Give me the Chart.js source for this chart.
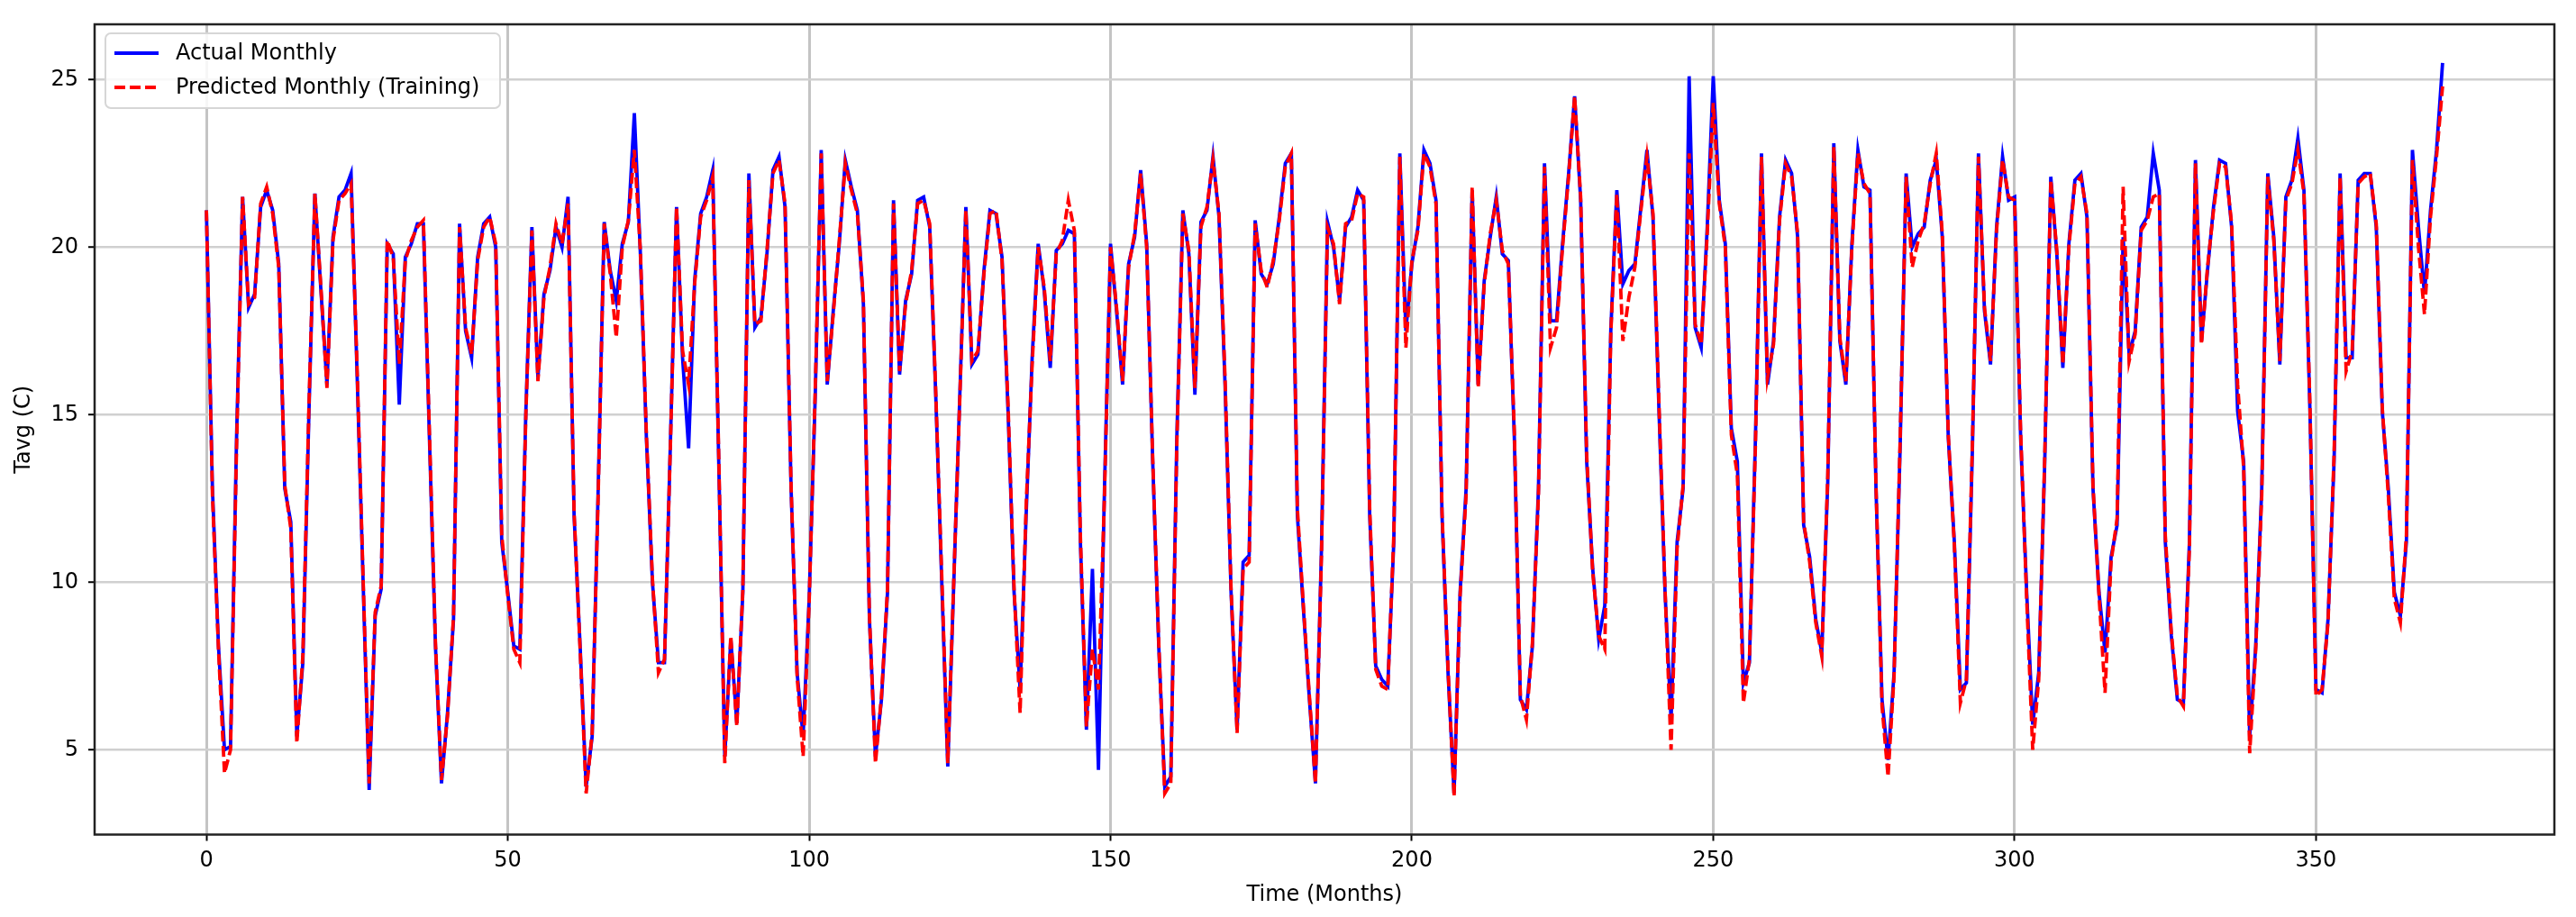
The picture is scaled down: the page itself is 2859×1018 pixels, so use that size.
<!DOCTYPE html>
<html>
<head>
<meta charset="utf-8">
<script src="https://cdn.jsdelivr.net/npm/chart.js@4.4.1/dist/chart.umd.min.js"></script>
<style>
  html, body { margin: 0; padding: 0; background: #fff; }
  #wrap { width: 2859px; height: 1018px; }
</style>
</head>
<body>
<div id="wrap"><canvas id="tavg-chart" width="2859" height="1018"></canvas></div>
<script>
// monthly Tavg (C)
const actualMonthly = [
  21.1, 12.8, 8.1, 5.0, 5.1, 14.3, 21.5, 18.2, 18.6, 21.2,
  21.7, 21.1, 19.5, 12.8, 11.8, 5.4, 7.6, 15.0, 21.6, 18.7,
  15.9, 20.3, 21.5, 21.7, 22.2, 16.2, 10.0, 3.8, 9.0, 9.8,
  20.1, 19.8, 15.3, 19.7, 20.1, 20.7, 20.7, 14.3, 8.1, 4.0,
  6.1, 8.9, 20.7, 17.5, 16.7, 19.7, 20.7, 20.9, 20.0, 11.2,
  9.7, 8.1, 8.0, 15.1, 20.6, 16.1, 18.6, 19.3, 20.6, 20.0,
  21.5, 12.0, 8.1, 3.9, 5.4, 12.8, 20.75, 19.3, 18.4, 20.1,
  20.75, 24.0, 19.8, 14.3, 10.0, 7.6, 7.6, 14.3, 21.2, 16.7,
  14.0, 19.0, 21.0, 21.5, 22.3, 13.6, 4.8, 8.3, 5.8, 9.7,
  22.2, 17.6, 17.9, 19.8, 22.3, 22.7, 21.2, 12.8, 7.3, 5.4,
  9.5, 15.5, 22.9, 15.9, 18.1, 20.1, 22.6, 21.8, 21.1, 18.3,
  8.9, 4.8, 6.5, 9.7, 21.4, 16.2, 18.4, 19.2, 21.4, 21.5,
  20.6, 15.6, 10.0, 4.5, 10.0, 15.6, 21.2, 16.5, 16.8, 19.3,
  21.1, 21.0, 19.7, 15.1, 9.7, 6.8, 12.0, 16.7, 20.1, 18.7,
  16.4, 19.9, 20.1, 20.5, 20.4, 11.2, 5.6, 10.4, 4.4, 12.8,
  20.1, 18.1, 15.9, 19.5, 20.3, 22.3, 20.1, 13.6, 8.1, 3.9,
  4.2, 14.3, 21.1, 19.8, 15.6, 20.75, 21.1, 22.7, 20.9, 15.9,
  9.7, 5.6, 10.6, 10.8, 20.8, 19.2, 18.9, 19.5, 20.9, 22.5,
  22.8, 12.0, 9.2, 6.5, 4.0, 11.0, 20.75, 20.0, 18.4, 20.6,
  20.9, 21.7, 21.4, 12.0, 7.5, 7.1, 6.9, 11.2, 22.8, 17.5,
  19.5, 20.6, 22.9, 22.5, 21.4, 12.0, 7.3, 3.7, 9.7, 12.8,
  21.7, 15.9, 19.0, 20.3, 21.5, 19.8, 19.6, 14.3, 6.5, 6.2,
  8.1, 12.8, 22.5, 17.8, 17.8, 20.1, 22.2, 24.5, 21.4, 13.6,
  10.4, 8.3, 9.3, 17.5, 21.7, 18.9, 19.3, 19.5, 21.2, 22.9,
  20.9, 15.1, 9.7, 5.9, 11.2, 12.8, 25.1, 17.6, 17.0, 20.6,
  25.1, 21.4, 20.1, 14.6, 13.6, 7.0, 7.6, 14.3, 22.8, 15.9,
  17.2, 20.9, 22.6, 22.2, 20.3, 11.7, 10.75, 8.9, 7.9, 13.0,
  23.1, 17.2, 15.9, 20.1, 22.9, 21.8, 21.7, 12.8, 6.5, 4.7,
  7.3, 14.0, 22.2, 20.0, 20.4, 20.6, 22.0, 22.6, 20.3, 14.3,
  11.2, 6.8, 7.0, 14.0, 22.8, 18.1, 16.5, 20.6, 22.7, 21.4,
  21.5, 14.3, 9.7, 5.75, 7.3, 13.6, 22.1, 19.8, 16.4, 20.1,
  22.0, 22.2, 20.9, 12.8, 9.7, 7.9, 10.75, 11.7, 20.3, 16.8,
  17.5, 20.6, 20.9, 22.8, 21.7, 11.2, 8.4, 6.5, 6.4, 11.2,
  22.6, 17.2, 19.3, 21.2, 22.6, 22.5, 20.6, 15.1, 13.6, 5.4,
  8.1, 12.8, 22.2, 20.3, 16.5, 21.5, 22.0, 23.25, 21.7, 15.1,
  6.8, 6.7, 8.9, 13.6, 22.2, 16.7, 16.7, 22.0, 22.2, 22.2,
  20.6, 15.1, 12.8, 9.7, 9.0, 11.2, 22.9, 20.6, 18.6, 21.1,
  22.9, 25.5
];

const predictedMonthly = [
  21.1, 12.6, 8.0, 4.3, 5.0, 14.0, 21.5, 18.3, 18.5, 21.3,
  21.8, 21.0, 19.4, 12.9, 11.6, 5.2, 7.8, 15.2, 21.6, 18.8,
  15.8, 20.2, 21.4, 21.6, 21.9, 16.4, 10.1, 4.0, 9.1, 9.9,
  20.2, 19.7, 16.5, 19.6, 20.2, 20.6, 20.8, 14.5, 8.2, 4.1,
  6.0, 9.0, 20.6, 17.6, 16.8, 19.6, 20.6, 20.9, 20.1, 11.4,
  9.6, 8.0, 7.6, 15.0, 20.5, 16.0, 18.5, 19.4, 20.7, 20.1,
  21.3, 12.1, 8.0, 3.7, 5.5, 12.6, 20.7, 19.2, 17.3, 20.0,
  20.8, 22.9, 19.9, 14.4, 10.1, 7.3, 7.7, 14.2, 21.2, 16.9,
  15.9, 18.9, 20.9, 21.4, 22.1, 13.8, 4.6, 8.4, 5.7, 9.8,
  22.0, 17.7, 17.8, 19.9, 22.2, 22.6, 21.3, 12.9, 7.2, 4.8,
  9.4, 15.7, 22.8, 16.0, 18.0, 20.2, 22.5, 21.7, 21.0, 18.4,
  9.0, 4.6, 6.6, 9.8, 21.3, 16.3, 18.3, 19.3, 21.3, 21.4,
  20.7, 15.7, 10.2, 4.6, 10.1, 15.5, 21.1, 16.6, 16.9, 19.2,
  21.0, 21.1, 19.6, 15.3, 9.8, 6.1, 12.3, 16.5, 20.0, 18.8,
  16.6, 19.8, 20.2, 21.4, 20.5, 11.4, 5.7, 8.0, 6.8, 12.6,
  20.0, 18.2, 16.0, 19.4, 20.4, 22.2, 20.0, 13.7, 8.2, 3.7,
  4.0, 14.1, 21.0, 19.9, 15.8, 20.6, 21.2, 22.6, 21.0, 16.1,
  9.8, 5.5, 10.4, 10.6, 20.7, 19.3, 18.8, 19.6, 20.8, 22.4,
  22.8, 12.2, 9.3, 6.6, 4.0, 10.8, 20.6, 20.1, 18.3, 20.7,
  20.8, 21.6, 21.5, 12.2, 7.4, 6.9, 6.8, 11.4, 22.7, 17.0,
  19.6, 20.5, 22.8, 22.4, 21.3, 12.1, 7.4, 3.6, 9.6, 12.6,
  21.8, 15.8, 18.9, 20.4, 21.4, 19.9, 19.5, 14.5, 6.6, 5.9,
  8.2, 12.6, 22.4, 17.0, 17.6, 20.0, 22.1, 24.5, 21.5, 13.8,
  10.3, 8.4, 8.0, 17.4, 21.6, 17.2, 18.5, 19.4, 21.1, 22.7,
  21.0, 15.3, 9.8, 5.0, 11.0, 12.9, 22.8, 17.7, 17.1, 20.4,
  24.3, 21.3, 20.0, 14.4, 13.2, 6.4, 7.7, 14.1, 22.7, 16.1,
  17.1, 20.8, 22.5, 22.1, 20.4, 11.8, 10.6, 8.8, 7.8, 13.2,
  23.0, 17.3, 16.0, 20.0, 22.8, 21.9, 21.6, 12.9, 6.3, 4.2,
  7.2, 14.2, 22.1, 19.4, 20.2, 20.7, 21.9, 22.8, 20.4, 14.4,
  11.1, 6.4, 7.1, 14.2, 22.7, 18.2, 16.6, 20.5, 22.6, 21.5,
  21.4, 14.5, 9.5, 5.0, 7.1, 13.8, 22.0, 19.9, 16.5, 20.0,
  21.9, 22.1, 21.0, 12.9, 9.6, 6.7, 10.6, 11.9, 21.8, 16.6,
  17.4, 20.5, 20.8, 21.5, 21.6, 11.4, 8.5, 6.6, 6.3, 11.0,
  22.5, 17.1, 19.4, 21.1, 22.5, 22.4, 20.7, 15.9, 13.4, 4.9,
  8.0, 12.6, 22.1, 20.2, 16.6, 21.4, 21.9, 22.9, 21.6, 15.3,
  6.6, 6.8, 8.8, 13.8, 22.1, 16.3, 16.9, 21.9, 22.1, 22.2,
  20.7, 15.2, 12.6, 9.5, 8.8, 11.4, 22.6, 20.0, 18.0, 20.9,
  22.7, 24.8
];

// month index 0..371
const months = actualMonthly.map((v, i) => i);

const xTicks = [0, 50, 100, 150, 200, 250, 300, 350];
const yTicks = [5, 10, 15, 20, 25];

const seriesLabels = ['Actual Monthly', 'Predicted Monthly (Training)'];

const FONT = 'DejaVu Sans';

const toPoints = (vals) => vals.map((v, i) => ({x: months[i], y: v}));

// frame + matplotlib style legend in the upper left
const framePlugin = {
  id: 'frame',
  afterDatasetsDraw(chart) {
    const {ctx, chartArea: a} = chart;
    ctx.save();
    ctx.strokeStyle = '#222';
    ctx.lineWidth = 2.5;
    ctx.strokeRect(a.left, a.top, a.right - a.left, a.bottom - a.top);

    // legend box
    const bx = 117, by = 37, bw = 438, bh = 83, r = 6;
    ctx.beginPath();
    ctx.moveTo(bx + r, by);
    ctx.arcTo(bx + bw, by, bx + bw, by + bh, r);
    ctx.arcTo(bx + bw, by + bh, bx, by + bh, r);
    ctx.arcTo(bx, by + bh, bx, by, r);
    ctx.arcTo(bx, by, bx + bw, by, r);
    ctx.closePath();
    ctx.fillStyle = 'rgba(255,255,255,0.85)';
    ctx.fill();
    ctx.strokeStyle = '#d6d6d6';
    ctx.lineWidth = 2;
    ctx.stroke();

    const rows = [
      {y: 59, color: '#0000ff', dash: [], w: 3.8},
      {y: 97, color: '#ff0000', dash: [12, 5], w: 3.8}
    ];
    rows.forEach((row, i) => {
      ctx.beginPath();
      ctx.setLineDash(row.dash);
      ctx.strokeStyle = row.color;
      ctx.lineWidth = row.w;
      ctx.moveTo(127, row.y);
      ctx.lineTo(176, row.y);
      ctx.stroke();
      ctx.setLineDash([]);
      ctx.fillStyle = '#000';
      ctx.font = '24px "' + FONT + '"';
      ctx.textBaseline = 'middle';
      ctx.fillText(seriesLabels[i], 195, row.y + 1);
    });
    ctx.restore();
  }
};

const config = {
  type: 'line',
  data: {
    datasets: [
      {
        label: seriesLabels[0],
        data: toPoints(actualMonthly),
        borderColor: '#0000ff',
        borderWidth: 3.8,
        pointRadius: 0,
        tension: 0,
        order: 2
      },
      {
        label: seriesLabels[1],
        data: toPoints(predictedMonthly),
        borderColor: '#ff0000',
        borderWidth: 3.8,
        borderDash: [12, 5],
        pointRadius: 0,
        tension: 0,
        order: 1
      }
    ]
  },
  options: {
    responsive: false,
    animation: false,
    devicePixelRatio: 1,
    layout: {padding: {top: 27, right: 24, left: 0, bottom: 0}},
    plugins: {
      legend: {display: false},
      tooltip: {enabled: false}
    },
    scales: {
      x: {
        type: 'linear',
        min: -18.55,
        max: 389.55,
        afterBuildTicks: (scale) => { scale.ticks = xTicks.map(v => ({value: v})); },
        afterFit: (scale) => { scale.height = 91.5; },
        ticks: {
          font: {family: FONT, size: 24},
          color: '#000',
          padding: 8,
          maxRotation: 0,
          callback: (v) => String(v)
        },
        grid: {color: '#c4c4c4', lineWidth: 3, tickLength: 7, tickColor: '#000', tickWidth: 2},
        border: {display: false},
        title: {
          display: true,
          text: 'Time (Months)',
          font: {family: FONT, size: 24},
          color: '#000',
          padding: {top: 0, bottom: 10}
        }
      },
      y: {
        type: 'linear',
        min: 2.47,
        max: 26.65,
        afterBuildTicks: (scale) => { scale.ticks = yTicks.map(v => ({value: v})); },
        afterFit: (scale) => { scale.width = 105; },
        ticks: {
          font: {family: FONT, size: 24},
          color: '#000',
          padding: 11,
          callback: (v) => String(v)
        },
        grid: {color: '#d0d0d0', lineWidth: 2.5, tickLength: 7, tickColor: '#000', tickWidth: 2},
        border: {display: false},
        title: {
          display: true,
          text: 'Tavg (C)',
          font: {family: FONT, size: 24},
          color: '#000',
          padding: {top: 12, bottom: 0}
        }
      }
    }
  },
  plugins: [framePlugin]
};

const tavgChart = new Chart(document.getElementById('tavg-chart'), config);
</script>
</body>
</html>
